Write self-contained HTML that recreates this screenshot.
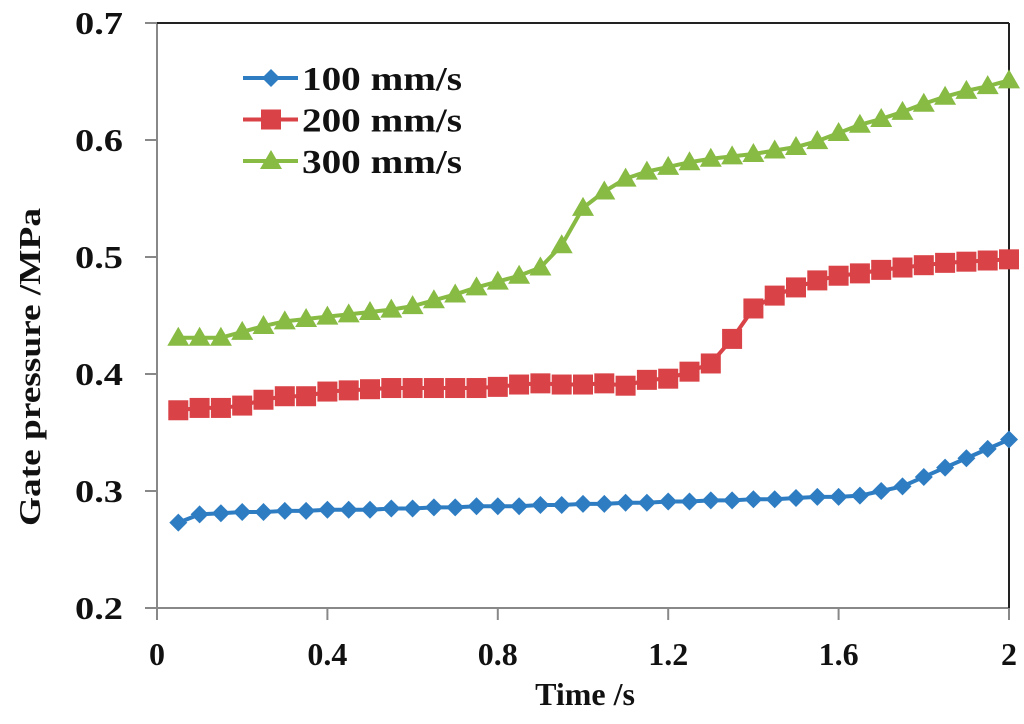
<!DOCTYPE html>
<html><head><meta charset="utf-8"><style>
body{margin:0;background:#fff;}
svg text{font-family:"Liberation Serif",serif;font-weight:bold;fill:#111;}
</style></head><body>
<svg id="chart" width="1024" height="719">
<g id="axes"></g><g id="series"></g><g id="legend"></g>
</svg>
<script>
const xTicks=[0,0.4,0.8,1.2,1.6,2];
const xTickLabels=["0","0.4","0.8","1.2","1.6","2"];
const yTicks=[0.2,0.3,0.4,0.5,0.6,0.7];
const yTickLabels=["0.2","0.3","0.4","0.5","0.6","0.7"];
const times=[0.05,0.1,0.15,0.2,0.25,0.3,0.35,0.4,0.45,0.5,0.55,0.6,0.65,0.7,0.75,0.8,0.85,0.9,0.95,1.0,1.05,1.1,1.15,1.2,1.25,1.3,1.35,1.4,1.45,1.5,1.55,1.6,1.65,1.7,1.75,1.8,1.85,1.9,1.95,2.0];
const s100=[0.273,0.280,0.281,0.282,0.282,0.283,0.283,0.284,0.284,0.284,0.285,0.285,0.286,0.286,0.287,0.287,0.287,0.288,0.288,0.289,0.289,0.290,0.290,0.291,0.291,0.292,0.292,0.293,0.293,0.294,0.295,0.295,0.296,0.300,0.304,0.312,0.320,0.328,0.336,0.344];
const s200=[0.369,0.371,0.371,0.373,0.378,0.381,0.381,0.385,0.386,0.387,0.388,0.388,0.388,0.388,0.388,0.389,0.391,0.392,0.391,0.391,0.392,0.390,0.395,0.396,0.402,0.409,0.430,0.456,0.467,0.474,0.480,0.484,0.486,0.489,0.491,0.493,0.495,0.496,0.497,0.498];
const s300=[0.431,0.431,0.431,0.436,0.441,0.445,0.447,0.449,0.451,0.453,0.455,0.458,0.463,0.468,0.474,0.479,0.484,0.491,0.510,0.542,0.556,0.567,0.573,0.577,0.581,0.584,0.586,0.588,0.591,0.594,0.599,0.606,0.613,0.618,0.624,0.631,0.637,0.642,0.646,0.651];
const seriesNames=["100 mm/s","200 mm/s","300 mm/s"];

const NS="http://www.w3.org/2000/svg";
const X0=157,X1=1009,Y0=608,Y1=23;
const xs=v=>X0+(v-0)/(2-0)*(X1-X0);
const ys=v=>Y0-(v-0.2)/(0.7-0.2)*(Y0-Y1);
function mk(t,a,p){const e=document.createElementNS(NS,t);for(const k in a)e.setAttribute(k,a[k]);p.appendChild(e);return e;}
const axes=document.getElementById('axes'),ser=document.getElementById('series'),leg=document.getElementById('legend');
let e;
e=mk('line',{x1:X0,y1:Y1,x2:X0,y2:Y0,stroke:'#888','stroke-width':2},axes);


e=mk('line',{x1:X0,y1:Y0,x2:X1,y2:Y0,stroke:'#888','stroke-width':2},axes);


e=mk('line',{x1:X0,y1:Y1,x2:X1,y2:Y1,stroke:'#222','stroke-width':2},axes);


e=mk('line',{x1:X1,y1:Y1,x2:X1,y2:Y0,stroke:'#222','stroke-width':2},axes);


yTicks.forEach((v,i)=>{
 mk('line',{x1:X0-12,y1:ys(v),x2:X0,y2:ys(v),stroke:'#888','stroke-width':2},axes);
 const t=mk('text',{x:X0-34,y:ys(v)+11,'text-anchor':'end','font-size':32,textLength:48,lengthAdjust:'spacingAndGlyphs'},axes);t.textContent=yTickLabels[i];
 
 
});
xTicks.forEach((v,i)=>{
 mk('line',{x1:xs(v),y1:Y0,x2:xs(v),y2:Y0+12,stroke:'#888','stroke-width':2},axes);
 const t=mk('text',{x:xs(v),y:665,'text-anchor':'middle','font-size':32},axes);t.textContent=xTickLabels[i];
 
 
});
e=mk('text',{x:585,y:705,'text-anchor':'middle','font-size':32},axes);e.textContent='Time /s';


e=mk('text',{x:0,y:0,'text-anchor':'middle','font-size':31,textLength:318,lengthAdjust:'spacingAndGlyphs',transform:'translate(40,367) rotate(-90)'},axes);e.textContent='Gate pressure /MPa';



const colors=['#2e7dc2','#d94246','#88bb44'];
function marker(kind,x,y,c,p){
 if(kind===0)return mk('polygon',{points:`${x},${y-9} ${x+9},${y} ${x},${y+9} ${x-9},${y}`,fill:c},p);
 if(kind===1)return mk('rect',{x:x-10,y:y-10,width:20,height:20,fill:c},p);
 return mk('polygon',{points:`${x},${y-11} ${x+11},${y+8} ${x-11},${y+8}`,fill:c},p);
}
[s100,s200,s300].forEach((s,k)=>{
 const g=mk('g',{},ser);
 
 
 mk('polyline',{points:s.map((v,i)=>xs(times[i])+','+ys(v)).join(' '),fill:'none',stroke:colors[k],'stroke-width':4},g);
 s.forEach((v,i)=>{const m=marker(k,xs(times[i]),ys(v),colors[k],g);
  
  });
});
seriesNames.forEach((n,k)=>{
 const y=78+k*41.5;
 const g=mk('g',{},leg);
 
 
 mk('line',{x1:243,y1:y,x2:298,y2:y,stroke:colors[k],'stroke-width':4},g);
 marker(k,271,y,colors[k],g);
 const t=mk('text',{x:302,y:y+12,'font-size':34,textLength:160,lengthAdjust:'spacingAndGlyphs'},g);t.textContent=n;
});
</script>
</body></html>
